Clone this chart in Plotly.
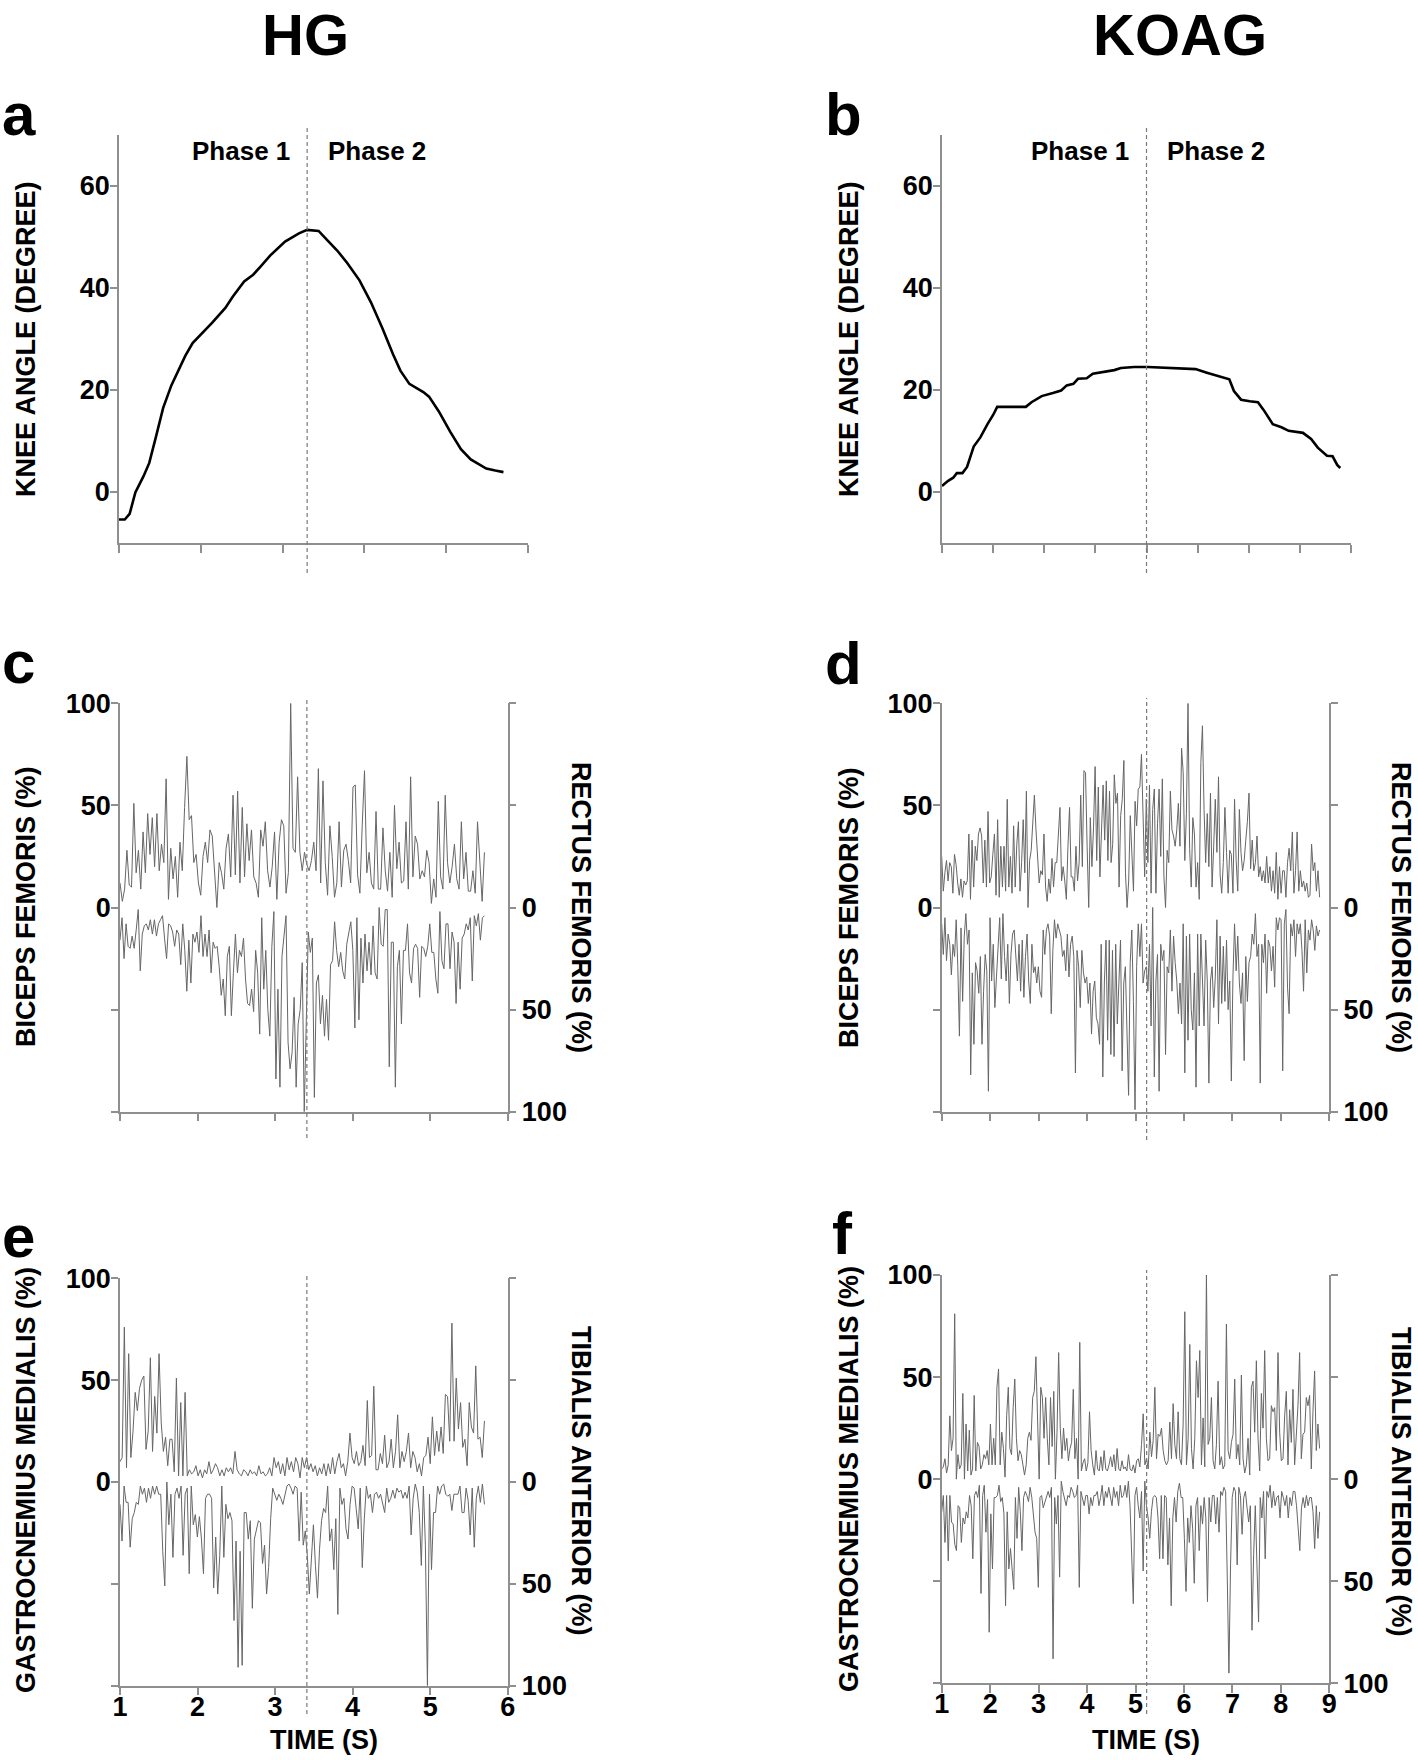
import numpy as np
import plotly.graph_objects as go

# page is 1418 x 1760; the body margin is removed by a small post script
W, H = 1418, 1760


def PX(x):
    return x / W


def PY(y):
    return 1 - y / H


# ---------------- DATA ----------------
# Panel a: HG knee angle (degree) vs time (s)
A_T = [1.0, 1.07, 1.13, 1.20, 1.30, 1.37, 1.45, 1.54, 1.64, 1.73, 1.81, 1.90, 2.01, 2.14, 2.30, 2.39,
       2.53, 2.64, 2.73, 2.85, 3.03, 3.20, 3.30, 3.44, 3.54, 3.67, 3.79, 3.94, 4.08, 4.22, 4.35, 4.44,
       4.55, 4.72, 4.79, 4.91, 5.05, 5.18, 5.30, 5.49, 5.60, 5.70]
A_V = [-5.4, -5.4, -4.3, -0.1, 3.1, 5.7, 10.7, 16.5, 20.9, 24.1, 26.7, 29.2, 31.0, 33.2, 36.1, 38.3,
       41.3, 42.6, 44.2, 46.4, 49.1, 50.7, 51.4, 51.2, 49.5, 47.3, 44.9, 41.5, 37.2, 32.1, 27.0, 23.8,
       21.2, 19.6, 18.7, 15.8, 11.8, 8.4, 6.4, 4.6, 4.2, 3.9]

# Panel b: KOAG knee angle
B_T = [1.0, 1.12, 1.22, 1.29, 1.40, 1.49, 1.62, 1.75, 1.89, 2.00, 2.08, 2.64, 2.75, 2.95, 3.17, 3.33,
       3.44, 3.57, 3.66, 3.83, 3.95, 4.19, 4.37, 4.50, 4.76, 5.03, 5.38, 5.65, 5.96, 6.18, 6.40, 6.62,
       6.71, 6.85, 7.02, 7.18, 7.29, 7.47, 7.64, 7.78, 8.06, 8.22, 8.35, 8.53, 8.64, 8.73, 8.79]
B_V = [1.2, 2.2, 2.8, 3.7, 3.7, 4.9, 8.9, 10.7, 13.3, 15.1, 16.7, 16.7, 17.6, 18.8, 19.4, 19.9,
       20.9, 21.2, 22.2, 22.3, 23.2, 23.6, 23.9, 24.3, 24.5, 24.5, 24.3, 24.2, 24.1, 23.4, 22.7, 22.1,
       19.8, 18.1, 17.8, 17.6, 16.1, 13.3, 12.7, 12.0, 11.6, 10.4, 8.7, 7.1, 7.0, 5.3, 4.7]

# phase boundaries (s)
A_SPLIT = 3.30
B_SPLIT = 5.00
HG_SPLIT = 3.41
KOAG_SPLIT = 5.23

# HG EMG record span (s)
HG_T0, HG_T1 = 1.0, 5.70
# KOAG EMG record span (s), read in two halves
KO_T0, KO_TM, KO_T1 = 1.0, 5.09, 8.80

# Panel c: biceps femoris (%) and rectus femoris (%)
C_BF = [12, 3, 9, 28, 11, 10, 51, 17, 28, 9, 37, 17, 46, 26, 44, 20, 46, 18, 31, 22, 63, 4, 29, 14, 25, 5,
        32, 18, 49, 74, 43, 45, 22, 26, 12, 6, 25, 32, 22, 38, 35, 15, 0, 22, 17, 9, 29, 36, 15, 55, 16,
        57, 12, 49, 15, 41, 23, 38, 15, 12, 5, 38, 30, 42, 18, 10, 20, 37, 4, 32, 43, 40, 7, 17, 100, 29,
        27, 64, 27, 18, 27, 21, 18, 23, 32, 18, 68, 12, 62, 22, 6, 40, 25, 5, 12, 42, 10, 28, 31, 23, 12,
        59, 60, 16, 7, 40, 67, 17, 27, 12, 9, 47, 9, 9, 39, 18, 8, 27, 5, 50, 19, 32, 12, 13, 42, 9, 64,
        15, 35, 31, 14, 18, 15, 28, 22, 2, 14, 5, 52, 15, 9, 55, 22, 12, 20, 31, 14, 9, 42, 14, 27, 8, 8,
        18, 7, 42, 22, 3, 27]
C_RF = [16, 5, 25, 8, 19, 20, 14, 20, 11, 1, 31, 13, 9, 8, 11, 6, 13, 6, 14, 8, 6, 4, 15, 25, 8, 9, 12,
        19, 11, 13, 28, 8, 21, 41, 16, 37, 13, 17, 12, 22, 4, 24, 13, 24, 11, 32, 17, 20, 19, 29, 43, 35,
        53, 24, 19, 53, 32, 13, 32, 21, 24, 15, 35, 47, 48, 40, 51, 21, 32, 62, 5, 40, 21, 50, 63, 19, 2,
        84, 40, 88, 24, 13, 4, 66, 79, 71, 44, 88, 57, 50, 27, 100, 47, 12, 22, 15, 93, 37, 33, 57, 43,
        63, 45, 65, 28, 26, 7, 21, 29, 22, 31, 35, 18, 12, 7, 21, 59, 5, 55, 15, 37, 13, 31, 17, 33, 9,
        32, 35, 0, 18, 19, 1, 1, 78, 17, 17, 88, 29, 21, 57, 21, 21, 8, 32, 37, 20, 18, 20, 44, 19, 20,
        24, 19, 8, 22, 22, 35, 42, 2, 26, 30, 8, 8, 30, 12, 17, 47, 17, 40, 15, 13, 8, 11, 5, 36, 4, 9,
        3, 16, 5, 4]

# Panel e: gastrocnemius medialis (%) and tibialis anterior (%)
E_GM = [10, 12, 76, 7, 63, 12, 25, 44, 35, 46, 50, 52, 16, 25, 61, 15, 42, 24, 63, 29, 15, 22, 8, 21, 21,
        5, 51, 3, 39, 3, 44, 3, 6, 4, 5, 8, 3, 6, 2, 6, 4, 10, 4, 6, 9, 7, 3, 6, 3, 7, 5, 7, 4, 15, 6, 4,
        3, 6, 5, 3, 6, 4, 5, 3, 8, 4, 5, 3, 4, 7, 3, 12, 7, 10, 4, 9, 3, 12, 6, 10, 5, 12, 9, 2, 12, 7, 12,
        6, 9, 5, 8, 3, 7, 4, 9, 3, 9, 4, 12, 4, 10, 14, 7, 9, 3, 10, 24, 12, 9, 15, 8, 10, 18, 8, 40, 12,
        13, 47, 6, 6, 14, 9, 23, 7, 10, 21, 7, 15, 33, 7, 15, 10, 15, 24, 7, 15, 12, 5, 9, 3, 12, 13, 22,
        9, 32, 13, 25, 15, 27, 14, 43, 42, 20, 78, 20, 51, 26, 39, 17, 21, 8, 39, 27, 24, 57, 21, 22, 12,
        30]
E_TA = [11, 29, 2, 10, 10, 32, 18, 15, 10, 11, 2, 6, 3, 10, 3, 8, 2, 6, 2, 6, 6, 34, 51, 0, 21, 6, 37, 6,
        3, 8, 2, 36, 6, 3, 45, 2, 21, 16, 27, 17, 28, 45, 8, 6, 6, 8, 52, 27, 55, 36, 2, 37, 11, 18, 15,
        19, 68, 29, 91, 34, 90, 15, 15, 28, 19, 62, 28, 24, 19, 20, 40, 31, 55, 42, 18, 3, 6, 9, 6, 8, 11,
        6, 2, 1, 3, 6, 2, 3, 29, 5, 31, 24, 36, 55, 36, 21, 41, 57, 33, 19, 13, 15, 2, 29, 23, 43, 18, 65,
        3, 11, 8, 23, 28, 11, 2, 3, 13, 23, 3, 42, 18, 2, 8, 6, 15, 6, 5, 8, 6, 11, 15, 3, 10, 8, 4, 8, 3,
        5, 4, 8, 5, 8, 2, 26, 8, 1, 5, 15, 41, 2, 31, 100, 6, 43, 15, 15, 2, 6, 2, 1, 6, 7, 6, 14, 6, 6,
        6, 2, 15, 15, 3, 9, 26, 3, 32, 8, 2, 10, 1, 11]

# Panel d: KOAG biceps femoris / rectus femoris (first half, second half)
D_BF_1 = [25, 8, 17, 23, 13, 22, 20, 7, 26, 21, 12, 6, 14, 5, 13, 11, 13, 36, 4, 33, 10, 30, 23, 36, 39,
          35, 12, 33, 10, 47, 12, 15, 26, 36, 6, 43, 5, 30, 10, 30, 8, 53, 10, 25, 7, 40, 10, 31, 42, 8,
          22, 43, 17, 57, 0, 23, 28, 41, 55, 38, 22, 12, 18, 16, 36, 10, 3, 14, 7, 24, 10, 22, 22, 35, 49,
          13, 20, 13, 4, 30, 49, 15, 15, 8, 30, 13, 22, 55, 20, 67, 66, 30, 0, 44, 20, 39, 69, 23, 59, 15,
          34, 60, 33, 62, 23, 57, 22, 31, 65, 51, 56, 10, 45, 53, 72, 17, 0, 13, 45, 24, 8, 52, 40, 58]
D_BF_2 = [59, 75, 38, 15, 53, 22, 60, 7, 48, 58, 7, 41, 58, 25, 63, 15, 0, 28, 22, 57, 38, 35, 30, 38, 51,
          30, 78, 66, 23, 46, 100, 29, 10, 44, 36, 10, 22, 4, 71, 89, 48, 22, 46, 20, 56, 10, 30, 53, 27,
          64, 16, 7, 22, 49, 27, 7, 28, 26, 7, 53, 23, 8, 48, 27, 18, 23, 33, 42, 56, 19, 33, 18, 22, 35,
          15, 20, 13, 18, 12, 25, 12, 20, 8, 18, 7, 27, 4, 20, 7, 18, 18, 5, 22, 29, 18, 37, 7, 18, 37, 8,
          18, 10, 13, 8, 12, 5, 6, 31, 18, 22, 8, 18, 5]
D_RF_1 = [8, 23, 5, 26, 13, 18, 33, 18, 24, 6, 29, 63, 10, 46, 14, 3, 18, 11, 82, 32, 67, 27, 31, 42, 24,
          67, 41, 23, 31, 90, 5, 36, 18, 49, 34, 18, 5, 35, 3, 24, 36, 18, 47, 23, 13, 11, 23, 36, 18, 41,
          16, 44, 24, 13, 36, 47, 18, 32, 29, 37, 29, 41, 44, 11, 23, 11, 8, 14, 52, 21, 6, 15, 8, 11, 14,
          24, 21, 31, 13, 34, 18, 14, 24, 81, 21, 29, 49, 21, 32, 37, 34, 47, 37, 62, 41, 36, 54, 57, 67,
          18, 83, 36, 16, 65, 16, 72, 21, 73, 18, 57, 32, 16, 80, 37, 29, 59, 92, 27, 11, 46, 99, 29, 8]
D_RF_2 = [24, 8, 37, 31, 29, 41, 18, 58, 0, 83, 36, 23, 90, 18, 26, 21, 72, 29, 32, 11, 41, 14, 27, 36, 52,
          37, 57, 8, 81, 14, 65, 13, 50, 60, 32, 88, 13, 58, 13, 41, 58, 16, 36, 86, 36, 29, 49, 34, 6, 57,
          14, 47, 19, 46, 16, 50, 36, 85, 34, 8, 31, 14, 37, 47, 32, 75, 24, 46, 27, 24, 13, 18, 3, 24, 18,
          86, 18, 27, 13, 42, 16, 19, 31, 19, 39, 5, 11, 5, 6, 80, 8, 1, 39, 52, 8, 14, 6, 24, 8, 13, 8, 21,
          41, 6, 32, 11, 16, 6, 11, 21, 9, 14, 11]

# Panel f: KOAG gastrocnemius medialis / tibialis anterior
F_GM_1 = [5, 6, 10, 3, 7, 31, 14, 20, 81, 0, 12, 5, 7, 42, 0, 27, 4, 24, 2, 5, 41, 4, 18, 16, 5, 7, 12, 10,
          14, 7, 27, 7, 20, 7, 45, 54, 7, 23, 15, 1, 31, 45, 15, 12, 35, 49, 20, 9, 14, 12, 7, 2, 7, 20, 23,
          19, 40, 43, 60, 27, 0, 45, 40, 20, 40, 20, 7, 40, 16, 43, 0, 23, 62, 25, 10, 25, 14, 20, 9, 15,
          18, 44, 10, 20, 0, 67, 4, 8, 10, 4, 8, 33, 14, 7, 2, 14, 5, 4, 11, 4, 14, 5, 4, 7, 11, 6, 12, 4,
          15, 5, 4, 9, 5, 6, 4, 12, 5, 4, 7, 3, 9, 10]
F_GM_2 = [6, 17, 32, 7, 10, 5, 23, 11, 19, 45, 10, 22, 21, 25, 14, 9, 7, 9, 28, 10, 37, 17, 10, 33, 10, 7,
          27, 82, 7, 20, 66, 15, 5, 20, 58, 40, 63, 7, 30, 6, 100, 17, 20, 40, 9, 5, 17, 48, 7, 11, 5, 7,
          76, 14, 10, 18, 22, 49, 10, 17, 7, 51, 10, 3, 7, 20, 2, 45, 48, 23, 58, 20, 4, 42, 25, 63, 20, 9,
          10, 36, 33, 35, 14, 62, 23, 9, 10, 31, 43, 7, 34, 18, 44, 7, 20, 36, 62, 10, 22, 23, 40, 36, 41,
          5, 33, 53, 14, 27, 15]
F_TA_1 = [16, 8, 31, 8, 40, 8, 21, 22, 32, 35, 13, 14, 31, 19, 22, 16, 19, 8, 13, 39, 8, 6, 9, 3, 56, 8, 3,
          26, 10, 75, 17, 44, 9, 9, 8, 3, 11, 9, 17, 62, 16, 44, 34, 45, 54, 9, 29, 4, 16, 35, 9, 6, 8, 11,
          4, 9, 19, 26, 29, 53, 9, 8, 14, 11, 8, 6, 9, 4, 88, 9, 22, 8, 48, 1, 6, 9, 13, 8, 9, 4, 6, 9, 8,
          3, 53, 6, 9, 13, 8, 8, 17, 9, 13, 8, 8, 6, 13, 9, 3, 13, 6, 9, 4, 8, 13, 4, 9, 6, 13, 3, 9, 8, 3,
          9, 1, 13, 42, 61, 8, 4, 13]
F_TA_2 = [19, 6, 45, 1, 13, 19, 29, 16, 9, 8, 9, 19, 39, 8, 39, 8, 9, 42, 19, 62, 19, 9, 21, 6, 2, 9, 9,
          29, 55, 19, 31, 13, 24, 51, 13, 9, 35, 13, 22, 9, 19, 60, 9, 21, 8, 8, 22, 9, 26, 6, 8, 4, 6, 48,
          95, 42, 9, 4, 6, 42, 4, 8, 27, 9, 6, 14, 21, 13, 74, 37, 13, 42, 70, 9, 19, 6, 39, 6, 9, 3, 14, 6,
          13, 9, 8, 19, 6, 9, 13, 8, 19, 9, 13, 6, 6, 13, 26, 35, 14, 9, 14, 8, 13, 9, 9, 16, 34, 13, 29,
          16]

HG_XTICKS = [1, 2, 3, 4, 5, 6]
KO_XTICKS = [1, 2, 3, 4, 5, 6, 7, 8, 9]
KNEE_TICKS = [0, 20, 40, 60]
EMG_TICKS = [100, 50, 0, -50, -100]
EMG_LEFT_TEXT = ["100", "50", "0", "", ""]
EMG_RIGHT_TEXT = ["", "", "0", "50", "100"]


# ---------------- helpers ----------------
def hg_time(vals):
    return np.linspace(HG_T0, HG_T1, len(vals))


def ko_time(v1, v2):
    return np.concatenate([np.linspace(KO_T0, KO_TM, len(v1), endpoint=False),
                           np.linspace(KO_TM, KO_T1, len(v2))])


FONT = "Liberation Sans, Arial, Helvetica, sans-serif"
AXC = "#8f8f8f"
EMGC = "#666666"
TF = dict(family=FONT, size=27, color="black", weight="bold")

fig = go.Figure()

# knee angles
fig.add_trace(go.Scatter(x=A_T, y=A_V, xaxis="x", yaxis="y", mode="lines",
                         line=dict(color="black", width=2.6)))
fig.add_trace(go.Scatter(x=B_T, y=B_V, xaxis="x2", yaxis="y2", mode="lines",
                         line=dict(color="black", width=2.6)))

# EMG
emg_line = dict(color=EMGC, width=1.0)
fig.add_trace(go.Scatter(x=hg_time(C_BF), y=C_BF, xaxis="x3", yaxis="y3", mode="lines", line=emg_line))
fig.add_trace(go.Scatter(x=hg_time(C_RF), y=-np.array(C_RF), xaxis="x3", yaxis="y7", mode="lines", line=emg_line))
fig.add_trace(go.Scatter(x=ko_time(D_BF_1, D_BF_2), y=D_BF_1 + D_BF_2, xaxis="x4", yaxis="y4",
                         mode="lines", line=emg_line))
fig.add_trace(go.Scatter(x=ko_time(D_RF_1, D_RF_2), y=-np.array(D_RF_1 + D_RF_2), xaxis="x4", yaxis="y8",
                         mode="lines", line=emg_line))
fig.add_trace(go.Scatter(x=hg_time(E_GM), y=E_GM, xaxis="x5", yaxis="y5", mode="lines", line=emg_line))
fig.add_trace(go.Scatter(x=hg_time(E_TA), y=-np.array(E_TA), xaxis="x5", yaxis="y9", mode="lines", line=emg_line))
fig.add_trace(go.Scatter(x=ko_time(F_GM_1, F_GM_2), y=F_GM_1 + F_GM_2, xaxis="x6", yaxis="y6",
                         mode="lines", line=emg_line))
fig.add_trace(go.Scatter(x=ko_time(F_TA_1, F_TA_2), y=-np.array(F_TA_1 + F_TA_2), xaxis="x6", yaxis="y10",
                         mode="lines", line=emg_line))


def xax(px0, px1, rng, ticks, labels, anchor):
    return dict(domain=[PX(px0), PX(px1)], range=rng, anchor=anchor, showline=True, linecolor=AXC,
                linewidth=1.5, ticks="outside", ticklen=8, tickcolor=AXC, tickwidth=1.5,
                tickvals=ticks, ticktext=[str(t) for t in ticks], showticklabels=labels,
                showgrid=False, zeroline=False, fixedrange=True, tickfont=TF, ticklabelstandoff=-12,
                automargin=False)


def yax(py_top, py_bot, rng, ticks, text, anchor, side="left", overlaying=None):
    d = dict(domain=[PY(py_bot), PY(py_top)], range=rng, anchor=anchor, side=side, showline=True,
             linecolor=AXC, linewidth=1.5, ticks="outside", ticklen=7, tickcolor=AXC, tickwidth=1.5,
             tickvals=ticks, ticktext=text, showgrid=False, zeroline=False, fixedrange=True,
             tickfont=TF, ticklabelstandoff=(-5 if side == "left" else 0), automargin=False)
    if overlaying:
        d["overlaying"] = overlaying
    return d


HG_L, HG_R = 120, 507.7
KO_L, KO_R = 941.7, 1329.3

layout = dict(
    width=W, height=H, autosize=False, margin=dict(l=0, r=0, t=0, b=0, pad=0, autoexpand=False),
    paper_bgcolor="white", plot_bgcolor="white", showlegend=False,
    font=dict(family=FONT, color="black"),
    xaxis=xax(119, 528, [1, 6], HG_XTICKS, False, "y"),
    yaxis=yax(135, 543, [-10, 70], KNEE_TICKS, [str(t) for t in KNEE_TICKS], "x"),
    xaxis2=xax(942, 1351, [1, 9], KO_XTICKS, False, "y2"),
    yaxis2=yax(135, 543, [-10, 70], KNEE_TICKS, [str(t) for t in KNEE_TICKS], "x2"),
    xaxis3=xax(HG_L, HG_R, [1, 6], HG_XTICKS, False, "y3"),
    yaxis3=yax(703.3, 1111.7, [-100, 100], EMG_TICKS, EMG_LEFT_TEXT, "x3"),
    yaxis7=yax(703.3, 1111.7, [-100, 100], EMG_TICKS, EMG_RIGHT_TEXT, "x3", "right", "y3"),
    xaxis4=xax(KO_L, KO_R, [1, 9], KO_XTICKS, False, "y4"),
    yaxis4=yax(703.3, 1111.7, [-100, 100], EMG_TICKS, EMG_LEFT_TEXT, "x4"),
    yaxis8=yax(703.3, 1111.7, [-100, 100], EMG_TICKS, EMG_RIGHT_TEXT, "x4", "right", "y4"),
    xaxis5=xax(HG_L, HG_R, [1, 6], HG_XTICKS, True, "y5"),
    yaxis5=yax(1278.3, 1685.7, [-100, 100], EMG_TICKS, EMG_LEFT_TEXT, "x5"),
    yaxis9=yax(1278.3, 1685.7, [-100, 100], EMG_TICKS, EMG_RIGHT_TEXT, "x5", "right", "y5"),
    xaxis6=xax(KO_L, KO_R, [1, 9], KO_XTICKS, True, "y6"),
    yaxis6=yax(1275, 1683.3, [-100, 100], EMG_TICKS, EMG_LEFT_TEXT, "x6"),
    yaxis10=yax(1275, 1683.3, [-100, 100], EMG_TICKS, EMG_RIGHT_TEXT, "x6", "right", "y6"),
)
fig.update_layout(**layout)

# phase separation dashed lines
dash = dict(color="#7a7a7a", width=1.2, dash="4px,3px")
for xref, xv, top, bot in [("x", A_SPLIT, 128, 573), ("x2", B_SPLIT, 128, 573),
                           ("x3", HG_SPLIT, 698, 1138), ("x4", KOAG_SPLIT, 698, 1140),
                           ("x5", HG_SPLIT, 1273, 1714), ("x6", KOAG_SPLIT, 1270, 1714)]:
    fig.add_shape(type="line", xref=xref, yref="paper", x0=xv, x1=xv, y0=PY(bot), y1=PY(top), line=dash)


def note(text, x, y, size=27, angle=0, xa="center", ya="middle"):
    fig.add_annotation(text=text, x=PX(x), y=PY(y), xref="paper", yref="paper", showarrow=False,
                       xanchor=xa, yanchor=ya, textangle=angle,
                       font=dict(family=FONT, size=size, color="black", weight="bold"))


# group titles
note("HG", 305, 0, 58, ya="top")
note("KOAG", 1180, 0, 58, ya="top")
# panel letters
for letter, x, y, xa in [("a", 0, 114, "left"), ("b", 843, 114, "center"), ("c", 0, 662, "left"),
                         ("d", 843, 664, "center"), ("e", 0, 1236, "left"), ("f", 842, 1233, "center")]:
    note(letter, x, y, 60, xa=xa)
# phase labels
note("Phase 1", 241, 151, 26)
note("Phase 2", 377, 151, 26)
note("Phase 1", 1080, 151, 26)
note("Phase 2", 1216, 151, 26)
# axis titles
note("KNEE ANGLE (DEGREE)", 26, 339, 27, -90)
note("KNEE ANGLE (DEGREE)", 849, 339, 27, -90)
note("BICEPS FEMORIS (%)", 26, 907, 27, -90)
note("BICEPS FEMORIS (%)", 849, 907, 27, -90)
note("RECTUS FEMORIS (%)", 581, 907, 27, 90)
note("RECTUS FEMORIS (%)", 1418, 907, 27, 90, xa="right")
note("GASTROCNEMIUS MEDIALIS (%)", 26, 1480, 27, -90)
note("GASTROCNEMIUS MEDIALIS (%)", 849, 1479, 27, -90)
note("TIBIALIS ANTERIOR (%)", 581, 1481, 27, 90)
note("TIBIALIS ANTERIOR (%)", 1418, 1482, 27, 90, xa="right")
note("TIME (S)", 324, 1740, 27)
note("TIME (S)", 1146, 1740, 27)

fig.write_html("out.html", config={"displayModeBar": False},
               post_script="document.body.style.margin='0px';")
